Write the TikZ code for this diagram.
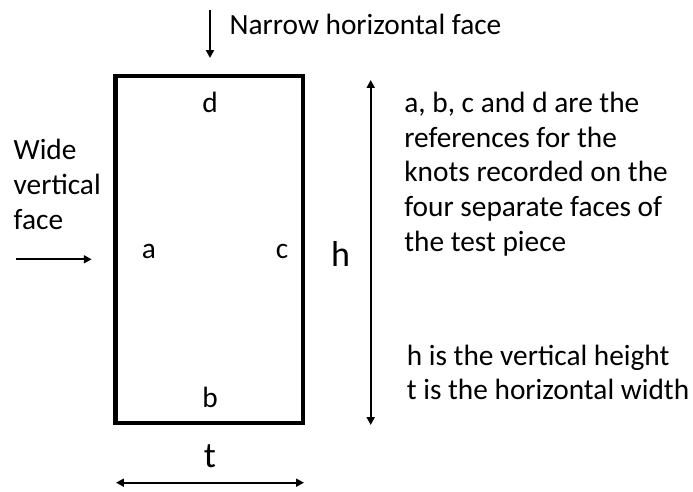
\documentclass[tikz,border=0pt]{standalone}
\usepackage{fontspec}
\setmainfont{Carlito}
\usetikzlibrary{arrows.meta}

\begin{document}
\begin{tikzpicture}[x=0.02cm, y=-0.02cm,
    every node/.style={font=\fontsize{16.7}{19.85}\selectfont, inner sep=0pt},
    arr/.style={-{Triangle[length=4.5pt,width=4.5pt]}, line width=1.1pt},
    dimarr/.style={{Triangle[length=4.5pt,width=4.5pt]}-{Triangle[length=4.5pt,width=4.5pt]}, line width=1.1pt},
    big/.style={font=\fontsize{20.5}{24}\selectfont}]
  \useasboundingbox (0,0) rectangle (693,492);

  % the test piece, with the four face references
  \node[draw, line width=2.3pt, outer sep=0pt,
        minimum width=3.75cm, minimum height=6.93cm] (piece) at (209.25,249.4) {};
  \node[anchor=base] (d) at (210,112.3) {d};
  \node[anchor=base] (a) at (149,259) {a};
  \node[anchor=base] (c) at (282,259) {c};
  \node[anchor=base] (b) at (210,407.7) {b};

  % narrow face -- arrow down onto the top edge
  \node[anchor=base west] (narrow) at (229.3,35) {Narrow horizontal face};
  \coordinate (narrow-from) at (210,10);
  \coordinate (narrow-to) at (210,58);
  \draw[arr] (narrow-from) -- (narrow-to);

  % wide face -- arrow in from the left
  % (base of a multi-line node = baseline of its last line)
  \node[anchor=base west, align=left] (wide) at (13.3,229.3) {Wide\\vertical\\face};
  \coordinate (wide-from) at (16,259.3);
  \coordinate (wide-to) at (91.7,259.3);
  \draw[arr] (wide-from) -- (wide-to);

  % dimensions h and t
  \coordinate (h-top) at (370.7,80);
  \coordinate (h-bot) at (370.7,425);
  \draw[dimarr] (h-top) -- (h-bot);
  \node[big, anchor=base] (hlbl) at (340.5,266.7) {h};
  \coordinate (t-left) at (116,482.7);
  \coordinate (t-right) at (304,482.7);
  \draw[dimarr] (t-left) -- (t-right);
  \node[big, anchor=base] (tlbl) at (210,468) {t};

  % notes on the right
  \node[anchor=base west, align=left] (notes) at (404,251.7)
    {a, b, c and d are the\\references for the\\knots recorded on the\\four separate faces of\\the test piece};
  \node[anchor=base west, align=left] (defs) at (406.5,400)
    {h is the vertical height\\t is the horizontal width};
\end{tikzpicture}
\end{document}
